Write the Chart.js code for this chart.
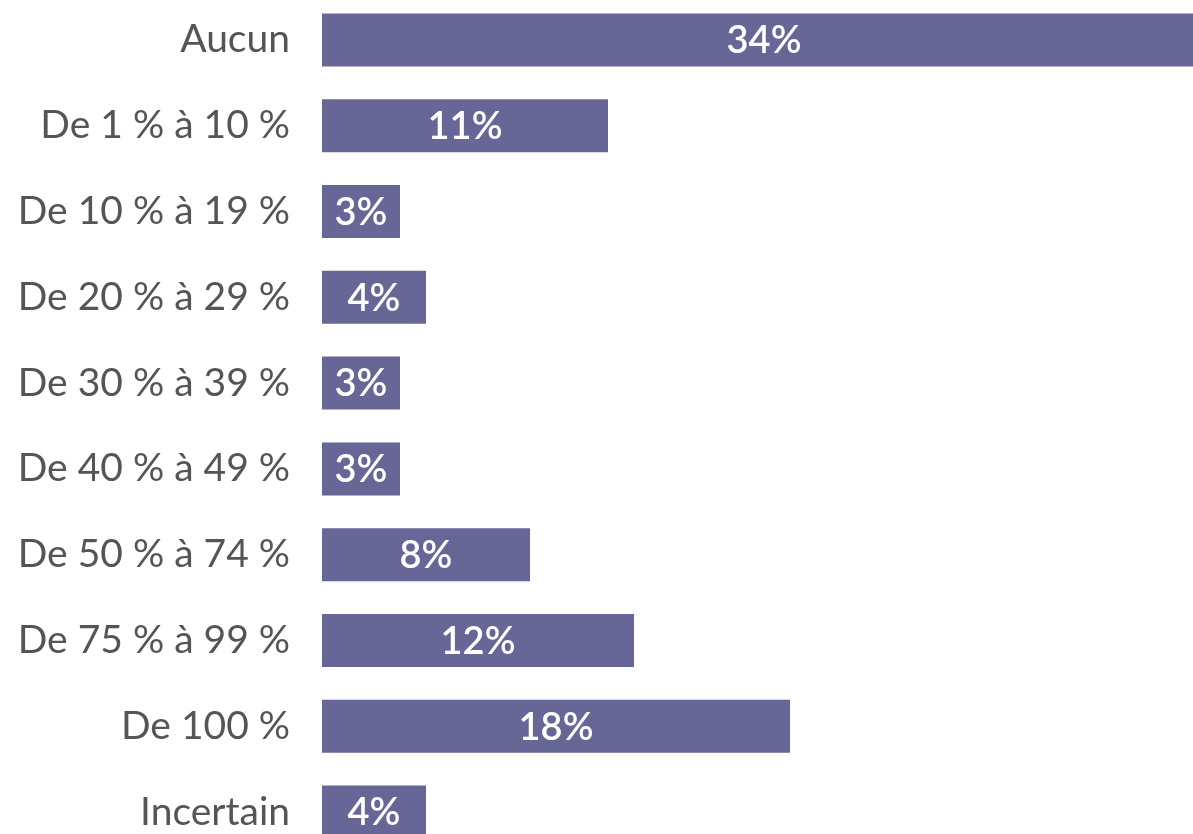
<!DOCTYPE html>
<html>
<head>
<meta charset="utf-8">
<script src="https://cdn.jsdelivr.net/npm/chart.js@4/dist/chart.umd.min.js"></script>
<style>
html,body{margin:0;padding:0;background:#fff;overflow:hidden;width:1193px;height:834px;}
#wrap{position:absolute;left:0;top:-3px;width:1193px;height:858px;}
</style>
</head>
<body>
<div id="wrap"><canvas id="c" width="1193" height="858"></canvas></div>
<script>
const categories = ["Aucun","De 1 % à 10 %","De 10 % à 19 %","De 20 % à 29 %","De 30 % à 39 %","De 40 % à 49 %","De 50 % à 74 %","De 75 % à 99 %","De 100 %","Incertain"];
const values = [34, 11, 3, 4, 3, 3, 8, 12, 18, 4];
const valueLabels = ["34%","11%","3%","4%","3%","3%","8%","12%","18%","4%"];

const FONT = "Lato, 'Open Sans', sans-serif";

const barLabels = {
  id: 'barLabels',
  afterDatasetsDraw(chart) {
    const ctx = chart.ctx;
    const meta = chart.getDatasetMeta(0);
    ctx.save();
    ctx.fillStyle = '#ffffff';
    ctx.font = "600 38px " + FONT;
    ctx.textAlign = 'center';
    ctx.textBaseline = 'middle';
    meta.data.forEach((bar, i) => {
      const cx = (bar.base + bar.x) / 2;
      ctx.fillText(valueLabels[i], cx, bar.y + 1);
    });
    ctx.restore();
  }
};

new Chart(document.getElementById('c'), {
  type: 'bar',
  data: {
    labels: categories,
    datasets: [{
      data: values,
      backgroundColor: '#666796',
      borderWidth: 0,
      barPercentage: 0.618,
      categoryPercentage: 1.0
    }]
  },
  options: {
    indexAxis: 'y',
    responsive: false,
    animation: false,
    devicePixelRatio: 1,
    layout: { padding: 0 },
    plugins: { legend: { display: false }, tooltip: { enabled: false } },
    scales: {
      x: { display: false, min: 0, max: 33.5 },
      y: {
        afterFit(scale) { scale.width = 322; scale.paddingTop = 0; scale.paddingBottom = 0; },
        grid: { display: false, drawTicks: false },
        border: { display: false },
        ticks: { color: '#555555', font: { family: FONT, size: 39 }, padding: 32 }
      }
    }
  },
  plugins: [barLabels]
});
</script>
</body>
</html>
